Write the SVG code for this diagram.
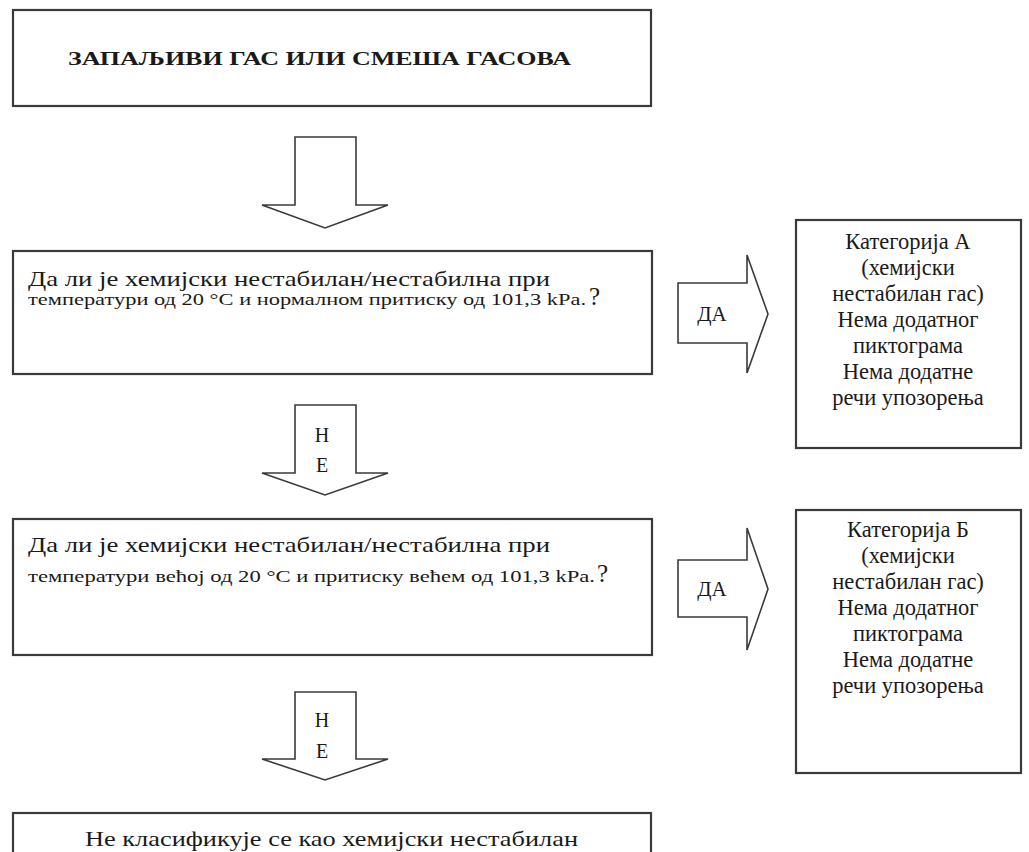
<svg xmlns="http://www.w3.org/2000/svg" width="1029" height="852" viewBox="0 0 1029 852">
<style>
.box{fill:#fff;stroke:#3a3a3a;stroke-width:2.2}
.arr{fill:#fff;stroke:#3a3a3a;stroke-width:1.6;stroke-linejoin:miter}
text{font-family:"Liberation Serif","Times New Roman","DejaVu Serif",serif;fill:#1a1a1a}
.b{font-weight:bold}
.q1{font-size:21px}
.q2{font-size:16px}
.qm{font-size:25px}
.r{font-size:22.5px;text-anchor:middle}
.he{font-size:20px;text-anchor:middle}
</style>
<rect width="1029" height="852" fill="#fff"/>
<g id="start">
<rect class="box" x="13" y="10" width="638" height="96"/>
<text class="b" x="68" y="65" font-size="19" textLength="503" lengthAdjust="spacingAndGlyphs">ЗАПАЉИВИ ГАС ИЛИ СМЕША ГАСОВА</text>
</g>
<g id="q1">
<rect class="box" x="13" y="251" width="639" height="123"/>
<text class="q1" x="28" y="286" textLength="522" lengthAdjust="spacingAndGlyphs">Да ли је хемијски нестабилан/нестабилна при</text>
<text class="q2" x="28" y="305" textLength="558" lengthAdjust="spacingAndGlyphs">температури од 20 °C и нормалном притиску од 101,3 kPa.</text>
<text class="qm" x="589" y="305">?</text>
</g>
<g id="q2">
<rect class="box" x="13" y="519" width="639" height="136"/>
<text class="q1" x="28" y="552" textLength="522" lengthAdjust="spacingAndGlyphs">Да ли је хемијски нестабилан/нестабилна при</text>
<text class="q2" x="28" y="582" textLength="567" lengthAdjust="spacingAndGlyphs">температури већој од 20 °C и притиску већем од 101,3 kPa.</text>
<text class="qm" x="597" y="582">?</text>
</g>
<g id="catA">
<rect class="box" x="796" y="220" width="225" height="228"/>
<text class="r" x="908" y="249">Категорија А</text>
<text class="r" x="908" y="275">(хемијски</text>
<text class="r" x="908" y="301">нестабилан гас)</text>
<text class="r" x="908" y="327">Нема додатног</text>
<text class="r" x="908" y="353">пиктограма</text>
<text class="r" x="908" y="379">Нема додатне</text>
<text class="r" x="908" y="405">речи упозорења</text>
</g>
<g id="catB">
<rect class="box" x="796" y="510" width="225" height="263"/>
<text class="r" x="908" y="537">Категорија Б</text>
<text class="r" x="908" y="563">(хемијски</text>
<text class="r" x="908" y="589">нестабилан гас)</text>
<text class="r" x="908" y="615">Нема додатног</text>
<text class="r" x="908" y="641">пиктограма</text>
<text class="r" x="908" y="667">Нема додатне</text>
<text class="r" x="908" y="693">речи упозорења</text>
</g>
<g id="end">
<rect class="box" x="13" y="813" width="638" height="60"/>
<text x="85" y="846" font-size="22" textLength="493" lengthAdjust="spacingAndGlyphs">Не класификује се као хемијски нестабилан</text>
</g>
<g id="connectors">
<polygon class="arr" points="295,137 356,137 356,205 388,205 325,228 262,205 295,205"/>
<polygon class="arr" points="295,405 356,405 356,473 388,473 325,495 262,473 295,473"/>
<text class="he" x="322" y="442">Н</text>
<text class="he" x="322" y="472">Е</text>
<polygon class="arr" points="295,692 356,692 356,759 388,759 325,780 262,759 295,759"/>
<text class="he" x="322" y="727">Н</text>
<text class="he" x="322" y="758">Е</text>
<polygon class="arr" points="678,283 747,283 747,255 768,314 747,373 747,343 678,343"/>
<text x="712" y="321" font-size="21" text-anchor="middle">ДА</text>
<polygon class="arr" points="678,560 747,560 747,528 768,589 747,650 747,617 678,617"/>
<text x="712" y="596" font-size="21" text-anchor="middle">ДА</text>
</g>
</svg>
